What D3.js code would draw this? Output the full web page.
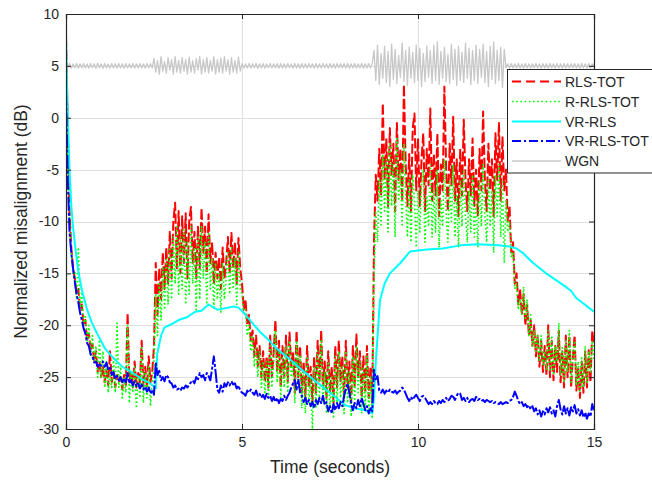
<!DOCTYPE html>
<html><head><meta charset="utf-8">
<script src="https://cdn.jsdelivr.net/npm/d3@7"></script>
<style>body{margin:0;background:#fff}text{font-family:"Liberation Sans",Arial,Helvetica,sans-serif;fill:#262626}</style>
</head><body><svg id="c" width="652" height="481"></svg>
<script>
// ---- data (time axis 0..15 s, evenly sampled unless a time array is given) ----
const xTicks = [0, 5, 10, 15];
const yTicks = [10, 5, 0, -5, -10, -15, -20, -25, -30];
const seriesNames = ["RLS-TOT", "R-RLS-TOT", "VR-RLS", "VR-RLS-TOT", "WGN"];
const xLabel = "Time (seconds)";
const yLabel = "Normalized misalignment (dB)";

const rlsTot = [
7.8,-1,-9,-12.5,-14.5,-15.5,-17,-16.5,-18.5,-18,
-20,-19.5,-21.5,-20.8,-22.5,-21.8,-23.5,-22.5,-24.5,-23.5,
-25,-24,-25.5,-24.3,-25.8,-22.5,-25.5,-24.5,-26,-24.8,
-25.5,-25,-26.2,-24.8,-25.8,-18.8,-25.5,-24.5,-26,-23.5,
-26,-24.6,-25.5,-21.5,-25.8,-24,-26,-23,-25.5,-24.5,
-22,-14,-19,-14.5,-17.5,-13,-16.5,-12.5,-16,-11,
-15.5,-10,-8.2,-14.5,-9,-15,-9.5,-14,-9.2,-15.5,
-10,-8.6,-14,-11,-15.5,-10.5,-14.5,-8.7,-13,-10.5,
-15,-9.3,-14,-12,-16,-13,-15.5,-13.5,-16.5,-12.5,
-15.5,-14,-11.5,-15,-11.1,-14.5,-12,-16,-11.6,-14.5,
-16,-18.5,-17.5,-20,-19,-21.5,-20.5,-23,-21,-24,
-22,-25,-22.5,-25.5,-23,-26,-21,-25,-22.5,-19.5,
-24.5,-21.5,-26,-22,-25,-21,-25.5,-20.7,-24,-22.5,
-26.5,-20.5,-25,-22,-26.5,-23.5,-27,-22,-26,-24,
-27.5,-23,-26.5,-21.5,-25.5,-20.5,-26,-23.5,-27,-22.5,
-26.5,-24,-27.5,-22,-26,-21.5,-25.5,-23,-27,-21.5,
-26,-23.5,-27.5,-22,-26,-20.9,-25,-22.5,-27,-23,
-26.5,-22,-27,-24,-27.5,
-12,-5.5,-8,-3,-7.5,1.4,-6,-2,-8.5,-1,
-5.5,-2.5,-9,-0.5,-6,-3,-8,3.2,-4.5,-8.5,
-3.5,-9,-1,0.4,-7,-2,-8.5,-4,-1.5,-9,
-3,-6.5,0.9,-8,-3.5,-7.5,-1.5,-9.5,-4.5,-7,
3,-5,-9,-2.5,-6.5,0.1,-8,-4,-9.5,-3,
-7.5,-0.2,-6,-9,-4,-7.5,-2,-8.5,-5,-9.5,
-3,-7,0.6,-6,-9,-2.5,-7,-4,-9.5,-1.5,
-6,-0.5,-8,-1.8,-7,
-5,-10,-8.5,-13,-12,-16,-15,-18,-16.5,-19,
-17,-20,-18,-21,-19.5,-22,-20,-23,-21,-24,
-21.5,-24.5,-22,-24.8,-20,-25,-21.5,-25.3,-22,-24.5,
-20.5,-25.5,-22.5,-26,-21,-25,-21,-26,-23,-21,
-26.3,-24,-27,-23.5,-26.5,-22.5,-26,-22.4,-25.5,-20.5,
-22];

const rRlsTot = [
7,-2,-9.5,-13,-15,-14.8,-17.5,-12.5,-18.5,-17,
-20,-19,-21.5,-20,-23,-21,-23.5,-22,-25,-21.4,
-25,-22.5,-26,-23.5,-26.5,-24.5,-26,-23,-26.5,-19.8,
-26,-24,-27,-25,-26.5,-20,-27.5,-24.5,-26.5,-24,
-28,-25,-27,-22,-27.5,-24.5,-27,-24,-27.8,-25.5,
-24,-17,-21,-16,-19.5,-14.5,-18.5,-13.5,-18,-12.5,
-17.5,-11.5,-16,-10.5,-17,-11.5,-16.5,-10.8,-18,-12,
-17,-10.5,-16,-12.5,-18.5,-11.5,-17.5,-10.5,-15.5,-12,
-18,-11,-16.5,-13.5,-18.5,-14,-17.5,-15,-18.8,-14,
-17.5,-15.5,-13,-17,-12.5,-16.5,-13.5,-18,-13,-16.5,
-17,-19,-18.5,-21,-20,-22.5,-21,-24,-22,-25,
-22.5,-26,-23.5,-26.5,-23.5,-27,-22,-26,-23.5,-20.5,
-25.5,-22.5,-27,-23,-26,-22,-26.5,-21.5,-25,-23.5,
-27.5,-21.5,-26,-23,-28,-24.5,-28.5,-23,-27.5,-25,
-30,-24,-28,-22.5,-27,-21.5,-27.5,-24.5,-28.5,-23.5,
-28,-25,-29,-23,-27.5,-22.5,-27,-24,-28.5,-22.5,
-27.5,-24.5,-28.8,-23,-27.5,-22,-26.5,-23.5,-28.5,-24,
-28,-23,-28.5,-25,-29,
-16,-9,-12,-6,-10.5,-3.5,-9,-4,-11,-2.5,
-8.5,-4.5,-11.5,-2,-8,-5,-10.5,-2.5,-7.5,-11.5,
-6,-12,-5.5,-8,-12.5,-7,-11,-6.5,-5,-12,
-7.5,-10.5,-4.5,-11.5,-7,-11,-5,-12.5,-8,-10.5,
-4,-9,-12,-6,-10,-4.5,-11.5,-7.5,-12.5,-6,
-10.5,-5,-9.5,-12,-7,-11,-5.5,-11.5,-8,-12.5,
-6,-10.5,-4.5,-9.5,-12,-6,-10.5,-7,-13,-5.5,
-9.5,-4.5,-11.5,-6,-14,
-8,-11,-10,-13.5,-13,-16.5,-16,-18.5,-17.5,-19,
-16.3,-19.5,-17.5,-21,-19,-22,-20.5,-22.5,-21,-23.5,
-21,-23.8,-22.5,-24.3,-20.5,-24.5,-21,-24.8,-22,-23.5,
-19.8,-24.8,-22,-25.5,-21.5,-24.5,-20.5,-25.5,-22.5,-21.5,
-25.8,-23.5,-26.5,-23,-26,-22,-25.5,-22.5,-24.5,-21.5,
-23.5];

const vrRlsTime = [0,0.03,0.06,0.1,0.15,0.2,0.26,0.35,0.45,0.6,
0.74,0.9,1.1,1.3,1.6,1.9,2.16,2.35,2.5,2.55,
2.59,2.7,2.8,3.0,3.2,3.45,3.67,3.85,4.05,4.3,
4.6,4.77,4.9,5.05,5.25,5.5,5.75,6.0,6.3,6.7,
7.16,7.64,7.93,8.2,8.5,8.7,8.75,8.8,8.92,9.05,
9.2,9.35,9.5,9.77,10.0,10.25,10.7,11.2,11.7,12.3,
12.6,12.8,13.0,13.27,13.6,13.9,14.2,14.35,14.5,14.7,
14.85,15];
const vrRls = [7.8,3,-1,-5,-8.5,-10.5,-12.4,-14.8,-16.6,-18.5,
-19.8,-20.9,-22.2,-23,-24,-24.6,-25.2,-25.5,-25.9,-26.1,
-22.8,-21,-20.2,-19.9,-19.5,-19.2,-18.7,-18.6,-18,-18.5,
-18.3,-18.2,-18.3,-18.8,-19.6,-20.6,-21.4,-22.3,-23.1,-24.3,
-25.6,-26.9,-27.7,-28,-28.2,-28.5,-27,-23.6,-17.6,-16,
-15,-14.5,-14,-12.9,-12.8,-12.7,-12.6,-12.3,-12.2,-12.3,
-12.4,-12.6,-13.1,-14,-14.9,-15.6,-16.3,-16.7,-17.4,-17.9,
-18.3,-18.7];

const vrRlsTot = [
2.5,-6,-11,-13,-14.5,-15.8,-17,-17.8,-18.8,-19.5,
-20.3,-20.8,-21.7,-22,-22.8,-23,-23.6,-23.5,-24,-23.8,
-23.9,-23.5,-24,-23.6,-24.3,-24.1,-24.8,-24.5,-25.2,-24.9,
-25.3,-25,-25.5,-25.1,-25.6,-24.6,-25.6,-25.3,-25.8,-25.4,
-25.9,-25.6,-26.1,-25.7,-26.2,-25.9,-26.4,-26,-26.6,-26.2,
-26.7,-23.6,-24.8,-24.4,-25.3,-25,-25.4,-24.8,-25,-25.5,
-25.6,-26,-25.8,-26.2,-26.1,-26.3,-26,-26.1,-25.8,-26,
-25.7,-25.5,-25.3,-25.6,-25,-25.2,-24.6,-25,-24.8,-25.3,
-24.6,-24.9,-25.3,-24.2,-23,-24.5,-26.2,-26.5,-25.8,-26.4,
-25.6,-25.9,-25.5,-25.8,-25.4,-25.7,-25.6,-26.1,-25.8,-26.3,
-26.5,-26.6,-26.8,-26.3,-26.5,-26.2,-26.5,-26.7,-26.3,-26.8,
-26.6,-27,-26.7,-27.1,-26.6,-27,-26.8,-27.3,-26.9,-27.4,
-27,-27.5,-27.1,-27.3,-26.8,-27.2,-26.8,-26.5,-26,-25.6,
-25.3,-26.2,-25.2,-26.5,-26.8,-27.4,-27,-27.6,-27.2,-27.8,
-27.4,-28,-27.2,-27.6,-27,-27.5,-26.8,-27.7,-27.4,-28.3,
-27.8,-28.5,-27.6,-28.2,-27.5,-28,-27.4,-27.8,-26.8,-26.2,
-25.6,-26.5,-27.6,-28.2,-27.5,-28,-27.2,-27.8,-27,-27.6,
-28.2,-27.8,-28.5,-28,-28.3,-24.3,-25.2,-24.9,-26.3,-26.5,
-26.2,-26.6,-26.3,-26.5,-26.2,-26.4,-26.5,-26.3,-26.6,-26.4,
-26.3,-26,-26.2,-26.6,-27,-27.3,-26.9,-27.2,-26.9,-26.7,
-27,-27.3,-26.9,-26.8,-27,-27.3,-27.6,-27.4,-27.6,-27.3,
-27.5,-27.6,-27.3,-27.5,-27.2,-27.4,-27,-27.3,-27.1,-26.8,
-26.9,-27.2,-26.8,-26.5,-26.6,-27.2,-27,-27.3,-27,-27.4,
-27.2,-27.1,-27.3,-26.9,-27.2,-27.1,-27.3,-27.2,-27.4,-27.2,
-27.3,-27.4,-27.3,-27.5,-27.4,-27.5,-27.6,-27.4,-27.6,-27.5,
-27.4,-27.5,-27.3,-27.2,-26.9,-26.4,-26.8,-27.3,-27.6,-27.4,
-27.8,-27.6,-27.9,-27.7,-28.1,-27.8,-28.3,-28,-28.6,-28.2,
-28.8,-28.3,-28.6,-28,-28.4,-27.9,-28.5,-28.2,-28.8,-27.8,
-27.2,-28.1,-28.6,-27.8,-28.5,-28,-28.7,-27.9,-28.3,-27.7,
-28.5,-28.1,-28.7,-28.2,-28.9,-28.4,-29,-28.5,-28.8,-27.6,
-28.2];

const wgn = [
5.2,4.8,5.25,4.78,5.18,4.82,5.22,4.76,5.2,4.8,
5.24,4.8,5.19,4.77,5.22,4.82,5.2,4.78,5.25,4.8,
5.2,4.76,5.23,4.81,5.18,4.79,5.22,4.8,5.2,4.77,
5.24,4.8,5.2,4.78,5.22,4.82,5.19,4.8,5.23,4.77,
5.2,4.8,5.22,4.79,5.2,4.78,5.24,4.8,5.21,4.79,
5.7,4.4,5.5,4.2,5.9,4.5,5.4,4.3,5.8,4.6,
5.6,4.2,5.9,4.4,5.5,4.3,5.8,4.5,5.6,4.2,
5.85,4.4,5.5,4.3,5.7,4.6,5.9,4.2,5.6,4.4,
5.8,4.3,5.5,4.5,5.9,4.2,5.6,4.4,5.75,4.3,
5.9,4.5,5.6,4.2,5.8,4.4,5.5,4.3,5.85,4.5,
5.22,4.79,5.2,4.8,5.24,4.78,5.2,4.81,5.23,4.77,
5.2,4.8,5.22,4.78,5.19,4.82,5.24,4.79,5.2,4.8,
5.21,4.77,5.23,4.8,5.2,4.79,5.22,4.81,5.18,4.78,
5.24,4.8,5.2,4.77,5.22,4.8,5.21,4.79,5.23,4.82,
5.2,4.78,5.22,4.8,5.19,4.79,5.24,4.81,5.2,4.77,
5.22,4.8,5.2,4.78,5.23,4.82,5.2,4.79,5.21,4.8,
5.24,4.77,5.2,4.8,5.22,4.79,5.2,4.81,5.23,4.78,
5.2,4.8,5.22,4.79,5.2,
6.5,3.6,7.0,3.2,6.2,3.8,6.9,3.4,6.4,3.0,
7.1,3.7,6.6,3.3,6.0,3.9,7.2,3.5,6.5,3.1,
6.8,3.8,6.3,3.4,7.0,3.6,6.7,3.0,6.2,3.5,
6.9,3.9,6.5,3.3,7.0,3.6,7.3,3.2,6.4,3.8,
6.8,3.5,6.1,3.3,7.1,3.7,6.6,3.1,6.9,3.6,
6.3,3.4,7.2,3.8,6.7,3.2,6.5,3.6,7.0,3.3,
6.6,3.9,7.1,3.4,6.4,3.0,6.9,3.7,7.3,3.3,
6.5,3.6,6.8,2.9,6.6,
4.8,5.2,4.78,5.22,4.8,5.2,4.79,5.24,4.8,5.2,
4.77,5.22,4.8,5.21,4.79,5.2,4.82,5.23,4.8,5.2,
4.78,5.22,4.8,5.2,4.79,5.24,4.81,5.2,4.78,5.22,
4.8,5.2,4.77,5.23,4.8,5.21,4.79,5.2,4.82,5.22,
4.8,5.2,4.78,5.24,4.8,5.2,4.79,5.22,4.8,5.2,
5.0];

// ---- drawing ----
const svg = d3.select("#c");
const x = d3.scaleLinear().domain([0, 15]).range([66, 594]);
const y = d3.scaleLinear().domain([-30, 10]).range([429, 14]);
const axisColor = "#262626";

function evenPoints(vals) {
  const n = vals.length;
  return vals.map((v, i) => [15 * i / (n - 1), v]);
}
function timedPoints(ts, vals) { return vals.map((v, i) => [ts[i], v]); }

svg.append("rect").attr("x", 66).attr("y", 14).attr("width", 528).attr("height", 415).attr("fill", "#fff");

// grid
const grid = svg.append("g").attr("stroke", "#dfdfdf").attr("stroke-width", 1);
grid.selectAll("line.v").data(xTicks).join("line")
  .attr("x1", d => Math.round(x(d)) + 0.5).attr("x2", d => Math.round(x(d)) + 0.5)
  .attr("y1", 14).attr("y2", 429);
grid.selectAll("line.h").data(yTicks).join("line").attr("class", "h")
  .attr("x1", 66).attr("x2", 594)
  .attr("y1", d => Math.round(y(d)) + 0.5).attr("y2", d => Math.round(y(d)) + 0.5);

svg.append("clipPath").attr("id", "clip").append("rect")
  .attr("x", 66).attr("y", 14).attr("width", 528).attr("height", 415);

const styles = [
  {name: seriesNames[0], pts: evenPoints(rlsTot), color: "#ff0000", w: 2, dash: "10,3", legDash: "9,5"},
  {name: seriesNames[1], pts: evenPoints(rRlsTot), color: "#00ff00", w: 1.6, dash: "1.6,2.4", legDash: "1.6,2.6"},
  {name: seriesNames[2], pts: timedPoints(vrRlsTime, vrRls), color: "#00ffff", w: 2, dash: null, legDash: null},
  {name: seriesNames[3], pts: evenPoints(vrRlsTot), color: "#0000ff", w: 2, dash: "14,2,3,2", legDash: "9,3,2,3"},
  {name: seriesNames[4], pts: evenPoints(wgn), color: "#c8c8c8", w: 1.3, dash: null, legDash: null}
];

const line = d3.line().x(d => x(d[0])).y(d => y(d[1]));
const plot = svg.append("g").attr("clip-path", "url(#clip)");
styles.forEach(s => {
  plot.append("path").datum(s.pts).attr("d", line)
    .attr("fill", "none").attr("stroke", s.color).attr("stroke-width", s.w)
    .attr("stroke-linejoin", "round")
    .attr("stroke-dasharray", s.dash);
});

// axes
const fs = 14;
const gx = svg.append("g").attr("transform", "translate(0,429)")
  .call(d3.axisBottom(x).tickValues(xTicks).tickSize(-5).tickPadding(8).tickFormat(d3.format("d")));
const gx2 = svg.append("g").attr("transform", "translate(0,14)")
  .call(d3.axisTop(x).tickValues(xTicks).tickSize(-5).tickFormat(""));
const gy = svg.append("g").attr("transform", "translate(66,0)")
  .call(d3.axisLeft(y).tickValues(yTicks).tickSize(-5).tickPadding(7).tickFormat(d3.format("d")));
const gy2 = svg.append("g").attr("transform", "translate(594,0)")
  .call(d3.axisRight(y).tickValues(yTicks).tickSize(-5).tickFormat(""));
[gx, gx2, gy, gy2].forEach(g => {
  g.selectAll("path.domain").attr("stroke", axisColor).attr("stroke-width", 1.2);
  g.selectAll(".tick line").attr("stroke", axisColor);
  g.selectAll("text").attr("font-size", fs).attr("fill", axisColor)
    .attr("font-family", '"Liberation Sans", Arial, sans-serif');
});
gy.selectAll(".tick text").text(d => d < 0 ? "-" + Math.abs(d) : d);

svg.append("text").attr("x", 330).attr("y", 473).attr("text-anchor", "middle")
  .attr("font-size", 17.5).text(xLabel);
svg.append("text").attr("transform", "translate(27,221.5) rotate(-90)")
  .attr("text-anchor", "middle").attr("font-size", 17.5).text(yLabel);

// legend
const leg = svg.append("g");
leg.append("rect").attr("x", 507.5).attr("y", 69.5).attr("width", 160).attr("height", 103.5)
  .attr("fill", "#fff").attr("stroke", axisColor).attr("stroke-width", 1);
const rowY = [81.5, 101.5, 121.5, 141, 161];
styles.forEach((s, i) => {
  leg.append("line").attr("x1", 512).attr("x2", 561).attr("y1", rowY[i]).attr("y2", rowY[i])
    .attr("stroke", s.color).attr("stroke-width", s.w === 1.3 ? 1.5 : s.w)
    .attr("stroke-dasharray", s.legDash);
  leg.append("text").attr("x", 565).attr("y", rowY[i]).attr("dy", "0.36em")
    .attr("font-size", 14).text(s.name);
});
</script></body></html>
